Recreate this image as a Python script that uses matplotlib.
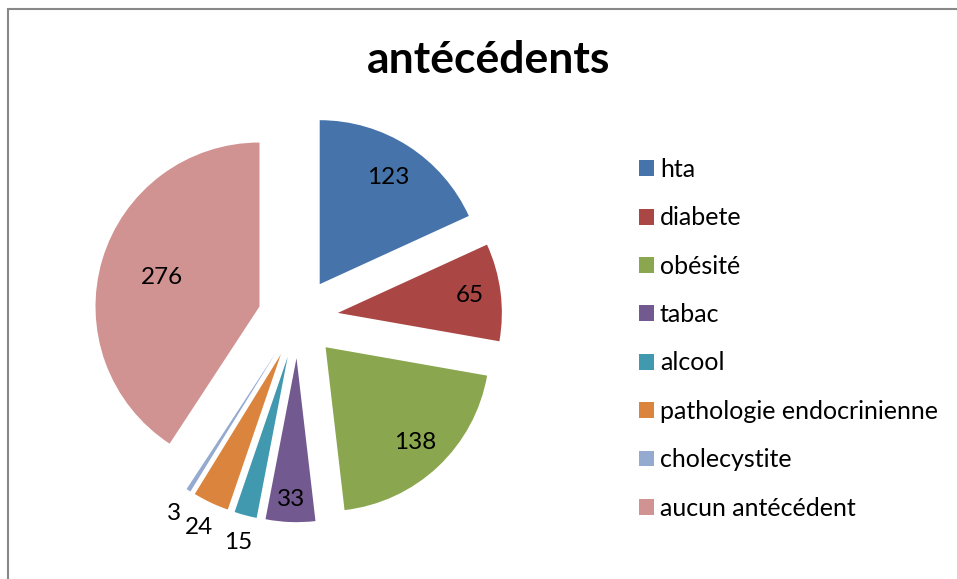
import numpy as np
import matplotlib
matplotlib.use("Agg")
import matplotlib.pyplot as plt
from matplotlib.patches import Rectangle

# data
categories = ['hta', 'diabete', 'obésité', 'tabac', 'alcool',
              'pathologie endocrinienne', 'cholecystite', 'aucun antécédent']
counts = [123, 65, 138, 33, 15, 24, 3, 276]
colors = ['#4673AA', '#AA4644', '#8AA64E', '#72598F', '#4199B0',
          '#DB843D', '#94AAD0', '#D19392']

# label distance (fraction of radius) for each wedge, as in the original
label_dist = [0.77, 0.81, 0.80, 0.86, 1.17, 1.17, 1.17, 0.62]

plt.rcParams['font.family'] = ['Lato', 'DejaVu Sans']

W, H = 957, 579
fig = plt.figure(figsize=(W / 100, H / 100), dpi=100)

# pie centre and radius in pixels
cx, cy, R = 298, 318, 164
ax = fig.add_axes([0, 0, 1, 1])
wedges, _ = ax.pie(counts, colors=colors, startangle=90, counterclock=False,
                   explode=[0.245] * len(counts), radius=1,
                   wedgeprops=dict(linewidth=0))
ax.set_xlim(-cx / R, (W - cx) / R)
ax.set_ylim(-(H - cy) / R, cy / R)
ax.set_aspect('equal')
ax.axis('off')

for w, val, d in zip(wedges, counts, label_dist):
    mid = np.deg2rad((w.theta1 + w.theta2) / 2)
    x = w.center[0] + d * w.r * np.cos(mid)
    y = w.center[1] + d * w.r * np.sin(mid)
    ax.text(x, y, str(val), ha='center', va='center', fontsize=17.5, color='black')

fig.text(489 / W, 1 - 60 / H, 'antécédents', ha='center', va='center',
         fontsize=32, fontweight='bold')

leg = fig.legend(wedges, categories, loc='upper left',
                 bbox_to_anchor=(639 / W, 1 - 158 / H), frameon=False,
                 fontsize=18, handlelength=0.6, handleheight=0.6,
                 handletextpad=0.24, labelspacing=1.015,
                 borderpad=0, borderaxespad=0)

# chart border (cut at right and bottom)
fig.patches.append(Rectangle((8 / W, -0.1), 1.2, 1 - 9 / H + 0.1,
                             transform=fig.transFigure, fill=False,
                             edgecolor='#888888', linewidth=1.5))

fig.savefig('out.png', dpi=100)
